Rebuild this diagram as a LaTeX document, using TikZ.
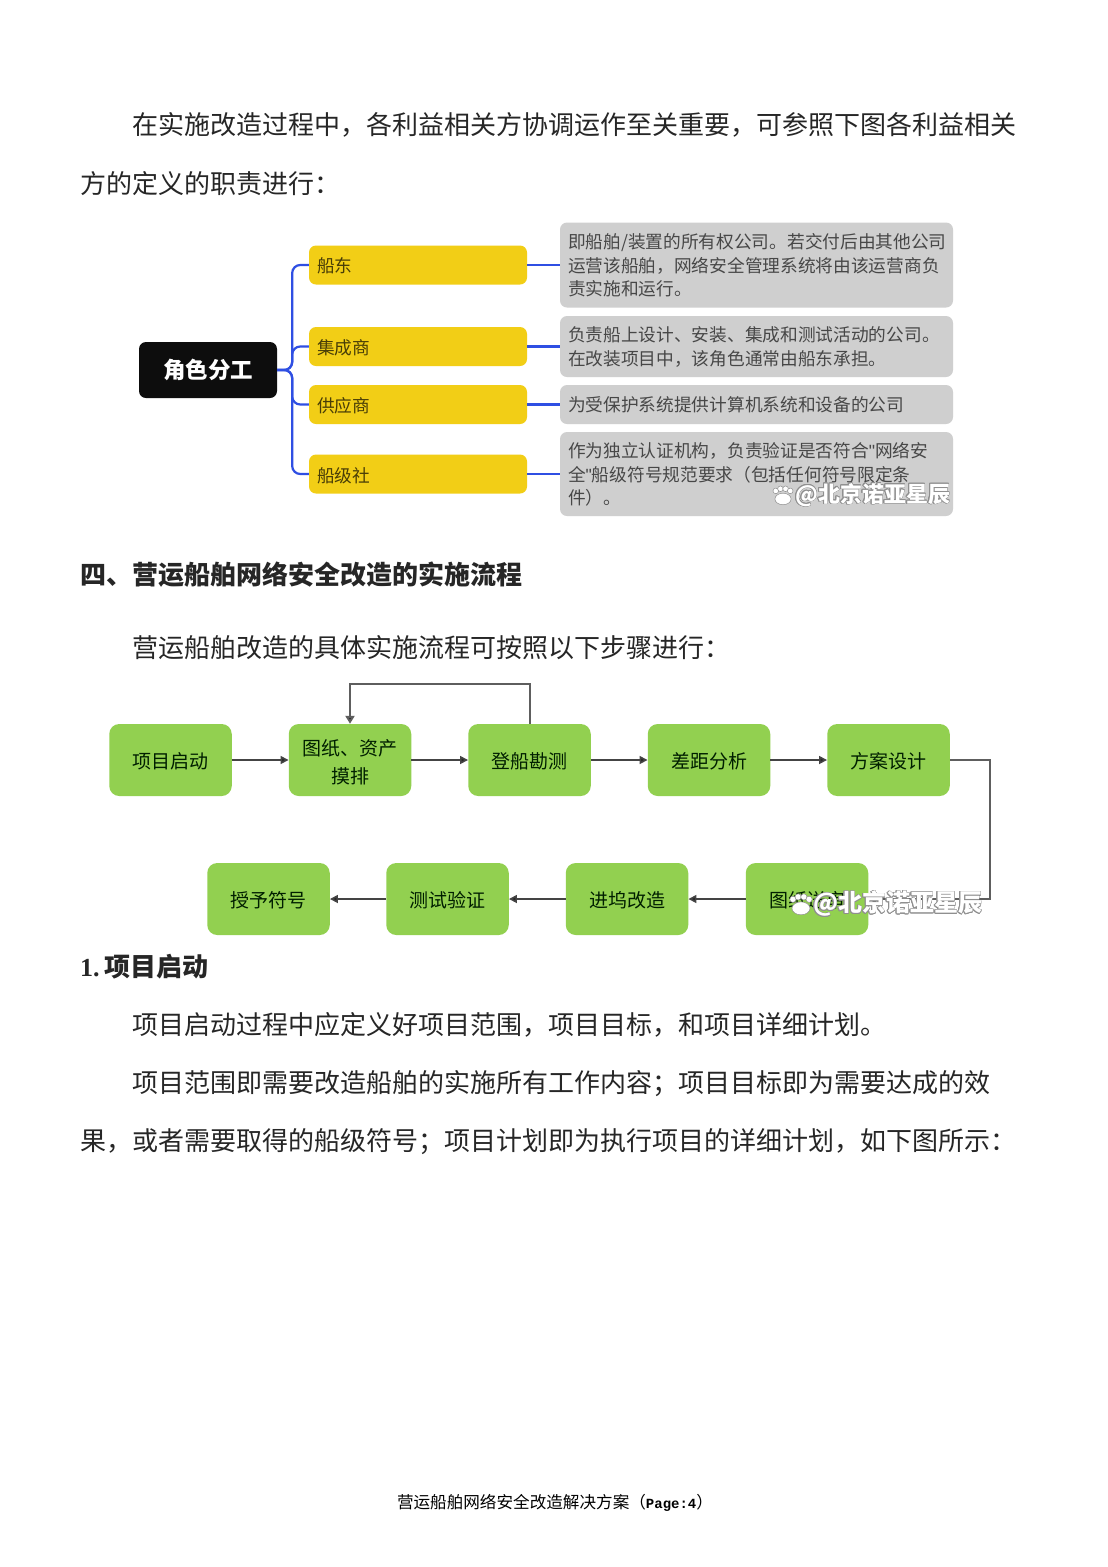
\documentclass[tikz,border=0pt]{standalone}
\usepackage{fontspec}
\usepackage{contour}
\setmainfont{Noto Sans CJK SC}
\newfontfamily\latinserif{Liberation Serif}
\newfontfamily\latinmono{Liberation Mono}
\newfontfamily\latinsans{Liberation Sans}
\usetikzlibrary{arrows.meta}
\contourlength{0.35pt}
\definecolor{mmblue}{HTML}{2F4FE3}
\definecolor{mmyellow}{HTML}{F2CE16}
\definecolor{mmgray}{HTML}{CFCFCF}
\definecolor{fgreen}{HTML}{92D050}
\definecolor{flowline}{HTML}{444444}
\definecolor{elbowline}{HTML}{5E5E5E}
\definecolor{wmedge}{HTML}{8F8F8F}
\newcommand{\dn}[2]{\raisebox{-#1pt}[\height][\depth]{#2}}
\tikzset{
  x=1pt,y=-1pt,
  bodyline/.style={anchor=base west,inner sep=0pt,font=\fontsize{26}{26}\selectfont,text=black!85},
  headline/.style={anchor=base west,inner sep=0pt,font=\fontsize{26}{26}\selectfont\bfseries,text=black!85},
  footline/.style={anchor=base,inner sep=0pt,font=\fontsize{16.6}{16.6}\selectfont,text=black},
  rootbox/.style={draw=none,fill=black!95,rounded corners=7pt,minimum width=138pt,minimum height=56pt,inner sep=0pt,text=white,font=\fontsize{22.5}{22.5}\selectfont\bfseries},
  rolebox/.style={fill=mmyellow,rounded corners=7pt,minimum width=218pt,minimum height=39pt,inner xsep=8pt,inner ysep=0pt,text width=202pt,align=left,text=black!70!mmyellow,font=\fontsize{17.7}{17.7}\selectfont},
  descbox/.style={fill=mmgray,rounded corners=7pt,inner xsep=8pt,inner ysep=0pt,text width=377pt,align=left,text=black!72,font=\fontsize{17.7}{23.5}\selectfont},
  mmline/.style={draw=mmblue,line width=2.2pt},
  flowbox/.style={fill=fgreen,rounded corners=10pt,minimum width=122.5pt,minimum height=72pt,inner sep=0pt,align=center,text=black!70!green!40!black,font=\fontsize{19}{28}\selectfont},
  flowarrow/.style={draw=flowline,line width=1.6pt,-{Triangle[length=8pt,width=8pt,fill=black!85]}},
  elbowarrow/.style={draw=elbowline,line width=2pt,-{Triangle[length=8pt,width=9pt,fill=black!85]}},
  wmark/.style={anchor=west,inner sep=0pt,text=white},
  pawpart/.style={fill=white,draw=wmedge,line width=0.5pt}
}
\newcommand{\wmpaw}[3]{%
  \begin{scope}[shift={(#1,#2)},scale=#3]
    \fill[pawpart] (0,3.5) ellipse (9.5 and 6.8);
    \fill[pawpart] (-8.5,-6) circle (3.3);
    \fill[pawpart] (-3,-8.5) circle (3.3);
    \fill[pawpart] (3,-8.5) circle (3.3);
    \fill[pawpart] (8.5,-6) circle (3.3);
  \end{scope}}
\begin{document}
\begin{tikzpicture}
\useasboundingbox[fill=white] (0,0) rectangle (1108,1567);

% running text
\node[bodyline] (t1) at (132,134) {在实施改造过程中，各利益相关方协调运作至关重要，可参照下图各利益相关};
\node[bodyline] (t2) at (80,193) {方的定义的职责进行：};
\node[headline] (h4) at (80,584) {四、营运船舶网络安全改造的实施流程};
\node[bodyline] (t3) at (132,657) {营运船舶改造的具体实施流程可按照以下步骤进行：};
\node[headline] (h1) at (80,976) {{\latinserif\bfseries 1.\,}项目启动};
\node[bodyline] (t4) at (132,1034) {项目启动过程中应定义好项目范围，项目目标，和项目详细计划。};
\node[bodyline] (t5) at (132,1092) {项目范围即需要改造船舶的实施所有工作内容；项目目标即为需要达成的效};
\node[bodyline] (t6) at (80,1150) {果，或者需要取得的船级符号；项目计划即为执行项目的详细计划，如下图所示：};
\node[footline] (foot) at (555,1508) {营运船舶网络安全改造解决方案（{\latinmono\bfseries\fontsize{14}{14}\selectfont Page:4}）};

% role map
\node[rootbox] (root) at (208,370) {角色分工};
\node[rolebox] (r1) at (418,265) {\dn{1.2}{船东}};
\node[rolebox] (r2) at (418,346.5) {\dn{1}{集成商}};
\node[rolebox] (r3) at (418,404.5) {\dn{1}{供应商}};
\node[rolebox] (r4) at (418,474) {\dn{1.5}{船级社}};
\node[descbox,minimum height=85pt] (d1) at (756.5,265) {\dn{0.7}{即船舶/装置的所有权公司。若交付后由其他公司}\\\dn{0.7}{运营该船舶，网络安全管理系统将由该运营商负}\\\dn{0.4}{责实施和运行。}};
\node[descbox,minimum height=61pt] (d2) at (756.5,346.5) {负责船上设计、安装、集成和测试活动的公司。\\\dn{0.7}{在改装项目中，该角色通常由船东承担。}};
\node[descbox,minimum height=39pt] (d3) at (756.5,404.5) {为受保护系统提供计算机系统和设备的公司};
\node[descbox,minimum height=84pt] (d4) at (756.5,474) {\dn{0.7}{作为独立认证机构，负责验证是否符合{\latinsans"}网络安}\\\dn{0.7}{全{\latinsans"}船级符号规范要求（包括任何符号限定条}\\\dn{0.5}{件）。}};
\foreach \n in {1,2,3,4}{
  \draw[mmline,rounded corners=8pt] (root.east) -- ++(15,0) |- (r\n.west);
  \draw[mmline] (r\n.east) -- (d\n.west);
}

% process flow
\node[flowbox] (f1) at (170.5,760) {\dn{1}{项目启动}};
\node[flowbox] (f2) at (350,760) {\dn{2}{图纸、资产}\\\dn{2}{摸排}};
\node[flowbox] (f3) at (529.5,760) {\dn{1}{登船勘测}};
\node[flowbox] (f4) at (709,760) {\dn{1}{差距分析}};
\node[flowbox] (f5) at (888.5,760) {\dn{1}{方案设计}};
\node[flowbox] (f6) at (807,899) {\dn{1}{图纸送审}};
\node[flowbox] (f7) at (627,899) {\dn{1}{进坞改造}};
\node[flowbox] (f8) at (447.5,899) {\dn{1}{测试验证}};
\node[flowbox] (f9) at (268.5,899) {\dn{1}{授予符号}};
\draw[flowarrow] (f1) -- (f2);
\draw[flowarrow] (f2) -- (f3);
\draw[flowarrow] (f3) -- (f4);
\draw[flowarrow] (f4) -- (f5);
\draw[flowarrow] (f6) -- (f7);
\draw[flowarrow] (f7) -- (f8);
\draw[flowarrow] (f8) -- (f9);
\draw[elbowarrow] (f3.north) -- ++(0,-40) -| (f2.north);
\draw[elbowarrow] (f5.east) -- ++(40.5,0) |- (f6.east);

% watermarks
\wmpaw{783}{496}{0.85}
\node[wmark,font=\fontsize{22}{22}\selectfont\bfseries] (w1) at (795,495) {\contour{wmedge}{@北京诺亚星辰}};
\wmpaw{801}{905}{0.95}
\node[wmark,font=\fontsize{24}{24}\selectfont\bfseries] (w2) at (813,904) {\contour{wmedge}{@北京诺亚星辰}};
\end{tikzpicture}
\end{document}
